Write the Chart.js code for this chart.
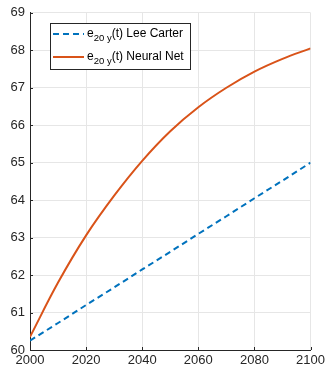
<!DOCTYPE html>
<html>
<head>
<meta charset="utf-8">
<script src="https://cdn.jsdelivr.net/npm/chart.js@4/dist/chart.umd.min.js"></script>
<style>
  html, body { margin: 0; padding: 0; background: #fff; }
  .chart-wrap { width: 328px; height: 371px; }
</style>
</head>
<body>
<div class="chart-wrap"><canvas id="c"></canvas></div>
<script>
const years = [2000, 2010, 2020, 2030, 2040, 2050, 2060, 2070, 2080, 2090, 2100];
const leeCarter = [60.25, 60.72, 61.2, 61.67, 62.15, 62.62, 63.1, 63.57, 64.05, 64.52, 65.0];
const neuralNet = [60.35, 61.8, 63.06, 64.12, 65.05, 65.84, 66.48, 67.0, 67.43, 67.77, 68.05];
const xTicks = [2000, 2020, 2040, 2060, 2080, 2100];
const yTicks = [60, 61, 62, 63, 64, 65, 66, 67, 68, 69];
const seriesNames = ["Lee Carter", "Neural Net"];

const BLUE = "#0072BD";
const ORANGE = "#D95319";
const AXIS = "#262626";
const FONT = "Liberation Sans, Arial, Helvetica, sans-serif";

const toPoints = vals => vals.map((v, i) => ({ x: years[i], y: v }));

// inward tick marks plus a legend with subscripts
const decorations = {
  id: "decorations",
  afterDraw(chart) {
    const ctx = chart.ctx;
    const { left, bottom } = chart.chartArea;
    const xs = chart.scales.x, ys = chart.scales.y;
    ctx.save();
    ctx.strokeStyle = AXIS;
    ctx.lineWidth = 1;
    ctx.beginPath();
    yTicks.forEach(t => {
      const py = Math.round(ys.getPixelForValue(t)) + 0.5;
      ctx.moveTo(left, py); ctx.lineTo(left + 3, py);
    });
    xTicks.forEach(t => {
      const px = Math.round(xs.getPixelForValue(t)) + 0.5;
      ctx.moveTo(px, bottom); ctx.lineTo(px, bottom - 3);
    });
    ctx.stroke();

    // legend box
    const bx = 50.5, by = 23.5, bw = 140, bh = 46;
    ctx.fillStyle = "#fff";
    ctx.fillRect(bx, by, bw, bh);
    ctx.strokeStyle = AXIS;
    ctx.strokeRect(bx, by, bw, bh);

    const rows = [
      { y: 34, color: BLUE, dash: [6, 4], name: seriesNames[0] },
      { y: 57, color: ORANGE, dash: [], name: seriesNames[1] }
    ];
    rows.forEach(r => {
      ctx.beginPath();
      ctx.setLineDash(r.dash);
      ctx.strokeStyle = r.color;
      ctx.lineWidth = 2;
      ctx.moveTo(53, r.y); ctx.lineTo(84, r.y);
      ctx.stroke();
      ctx.setLineDash([]);

      ctx.fillStyle = "#000";
      ctx.textBaseline = "alphabetic";
      let x = 87;
      ctx.font = "12px " + FONT;
      ctx.fillText("e", x, r.y + 3);
      x += ctx.measureText("e").width;
      ctx.font = "9.5px " + FONT;
      ctx.fillText("20 y", x, r.y + 7);
      x += ctx.measureText("20 y").width;
      ctx.font = "12px " + FONT;
      ctx.fillText("(t) " + r.name, x, r.y + 3);
    });
    ctx.restore();
  }
};

new Chart(document.getElementById("c"), {
  type: "line",
  data: {
    datasets: [
      {
        label: seriesNames[0],
        data: toPoints(leeCarter),
        borderColor: BLUE,
        borderWidth: 2,
        borderDash: [6, 4],
        pointRadius: 0,
        tension: 0
      },
      {
        label: seriesNames[1],
        data: toPoints(neuralNet),
        borderColor: ORANGE,
        borderWidth: 2,
        pointRadius: 0,
        tension: 0.4
      }
    ]
  },
  options: {
    responsive: true,
    maintainAspectRatio: false,
    animation: false,
    layout: { padding: { left: 0, right: 16, top: 12, bottom: 0 } },
    plugins: { legend: { display: false }, tooltip: { enabled: false } },
    scales: {
      x: {
        type: "linear",
        min: 2000,
        max: 2100,
        afterBuildTicks: s => { s.ticks = xTicks.map(v => ({ value: v })); },
        afterFit: s => { s.height = 21; },
        ticks: {
          callback: v => String(v),
          color: AXIS,
          font: { family: FONT, size: 13 },
          padding: 3,
          maxRotation: 0
        },
        grid: { color: "#e6e6e6", drawTicks: false },
        border: { display: true, color: AXIS, width: 1 }
      },
      y: {
        min: 60,
        max: 69,
        afterBuildTicks: s => { s.ticks = yTicks.map(v => ({ value: v })); },
        afterFit: s => { s.width = 30; },
        ticks: {
          callback: v => String(v),
          color: AXIS,
          font: { family: FONT, size: 13 },
          padding: 5
        },
        grid: { color: "#e6e6e6", drawTicks: false },
        border: { display: true, color: AXIS, width: 1 }
      }
    }
  },
  plugins: [decorations]
});
</script>
</body>
</html>
